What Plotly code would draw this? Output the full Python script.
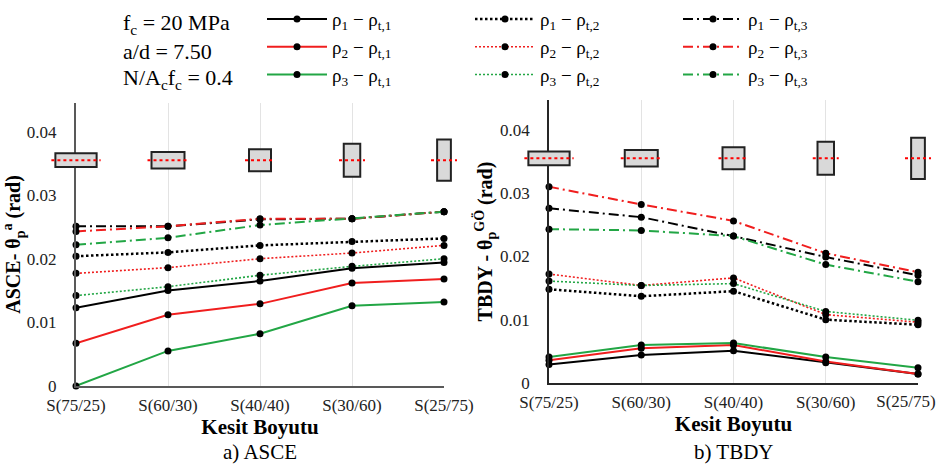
import plotly.graph_objects as go

# ---------------- data ----------------
categories = ["S(75/25)", "S(60/30)", "S(40/40)", "S(30/60)", "S(25/75)"]
sec_b = [75, 60, 40, 30, 25]   # section width (cm)
sec_h = [25, 30, 40, 60, 75]   # section height (cm)
limit_ref = 0.0355             # reference level drawn through the section glyphs

# ASCE (left)
asce_r1_t1 = [0.0123, 0.0150, 0.0165, 0.0185, 0.0194]
asce_r2_t1 = [0.0067, 0.0112, 0.0129, 0.0162, 0.0168]
asce_r3_t1 = [0.0000, 0.0055, 0.0082, 0.0126, 0.0132]
asce_r1_t2 = [0.0204, 0.0210, 0.0221, 0.0227, 0.0232]
asce_r2_t2 = [0.0177, 0.0186, 0.0200, 0.0209, 0.0221]
asce_r3_t2 = [0.0142, 0.0156, 0.0174, 0.0188, 0.0200]
asce_r1_t3 = [0.0251, 0.0251, 0.0262, 0.0263, 0.0274]
asce_r2_t3 = [0.0243, 0.0251, 0.0263, 0.0263, 0.0274]
asce_r3_t3 = [0.0222, 0.0233, 0.0253, 0.0263, 0.0274]

# TBDY (right)
tbdy_r1_t1 = [0.0029, 0.0044, 0.0051, 0.0032, 0.0014]
tbdy_r2_t1 = [0.0036, 0.0055, 0.0060, 0.0034, 0.0014]
tbdy_r3_t1 = [0.0041, 0.0060, 0.0063, 0.0041, 0.0024]
tbdy_r1_t2 = [0.0148, 0.0137, 0.0145, 0.0100, 0.0092]
tbdy_r2_t2 = [0.0172, 0.0154, 0.0166, 0.0108, 0.0096]
tbdy_r3_t2 = [0.0161, 0.0154, 0.0157, 0.0113, 0.0099]
tbdy_r1_t3 = [0.0276, 0.0262, 0.0232, 0.0199, 0.0170]
tbdy_r2_t3 = [0.0310, 0.0282, 0.0256, 0.0205, 0.0175]
tbdy_r3_t3 = [0.0243, 0.0241, 0.0232, 0.0187, 0.0160]

y_tickvals = [0, 0.01, 0.02, 0.03, 0.04]
y_ticktext = ["0", "0.01", "0.02", "0.03", "0.04"]

# ---------------- styles ----------------
BLACK, RED, GREEN = "#000000", "#f01e1e", "#22a645"
FONT = "Liberation Serif"
DOT_BLACK = dict(dash="2.5px,2.5px", width=2.5)
DOT_COL = dict(dash="2px,2px", width=1.6)
DASHDOT = dict(dash="10px,4px,2px,4px", width=2)
SOLID = dict(dash="solid", width=2)

series = [
    # (name, asce, tbdy, color, style, legend)
    ("ρ<sub>1</sub> − ρ<sub>t,1</sub>", asce_r1_t1, tbdy_r1_t1, BLACK, SOLID, "legend"),
    ("ρ<sub>2</sub> − ρ<sub>t,1</sub>", asce_r2_t1, tbdy_r2_t1, RED, SOLID, "legend"),
    ("ρ<sub>3</sub> − ρ<sub>t,1</sub>", asce_r3_t1, tbdy_r3_t1, GREEN, SOLID, "legend"),
    ("ρ<sub>1</sub> − ρ<sub>t,2</sub>", asce_r1_t2, tbdy_r1_t2, BLACK, DOT_BLACK, "legend2"),
    ("ρ<sub>2</sub> − ρ<sub>t,2</sub>", asce_r2_t2, tbdy_r2_t2, RED, DOT_COL, "legend2"),
    ("ρ<sub>3</sub> − ρ<sub>t,2</sub>", asce_r3_t2, tbdy_r3_t2, GREEN, DOT_COL, "legend2"),
    ("ρ<sub>1</sub> − ρ<sub>t,3</sub>", asce_r1_t3, tbdy_r1_t3, BLACK, DASHDOT, "legend3"),
    ("ρ<sub>2</sub> − ρ<sub>t,3</sub>", asce_r2_t3, tbdy_r2_t3, RED, DASHDOT, "legend3"),
    ("ρ<sub>3</sub> − ρ<sub>t,3</sub>", asce_r3_t3, tbdy_r3_t3, GREEN, DASHDOT, "legend3"),
]

fig = go.Figure()
for i, (name, ya, yt, col, st, lg) in enumerate(series):
    line = dict(color=col, width=st["width"], dash=st["dash"])
    mk = dict(color="black", size=7)
    fig.add_trace(go.Scatter(x=categories, y=ya, name=name, mode="lines+markers",
                             line=line, marker=mk, legend=lg, legendgroup=name,
                             cliponaxis=False, xaxis="x", yaxis="y"))
    fig.add_trace(go.Scatter(x=categories, y=yt, name=name, mode="lines+markers",
                             line=line, marker=mk, legend=lg, legendgroup=name,
                             showlegend=False, cliponaxis=False, xaxis="x2", yaxis="y2"))

# helper (invisible) trace so the overlay axis carrying the last right-panel label is drawn
fig.add_trace(go.Scatter(x=categories, y=[None] * len(categories), mode="markers",
                         showlegend=False, hoverinfo="skip", xaxis="x3", yaxis="y2"))

# section glyphs (pixel-sized rectangles scaled from section dims) + red dotted reference
PX_PER_CM = 0.55
shapes = []
n = len(categories)
for ax_suffix, yref in (("", "y"), ("2", "y2")):
    for i in range(n):
        w = sec_b[i] * PX_PER_CM
        h = sec_h[i] * PX_PER_CM
        xa = i / (n - 1)
        shapes.append(dict(type="rect", xref="x" + ax_suffix + " domain", yref=yref,
                           xsizemode="pixel", xanchor=xa, x0=-w / 2, x1=w / 2,
                           ysizemode="pixel", yanchor=limit_ref, y0=-h / 2, y1=h / 2,
                           fillcolor="#d9d9d9", line=dict(color="#222222", width=2),
                           layer="above"))
        L = max(w + 8, 26)
        shapes.append(dict(type="line", xref="x" + ax_suffix + " domain", yref=yref,
                           xsizemode="pixel", xanchor=xa, x0=-L / 2, x1=L / 2,
                           y0=limit_ref, y1=limit_ref,
                           line=dict(color="#ff0000", width=2, dash="dot"),
                           layer="above"))

# right panel: last tick label is drawn by an overlay axis, shifted left to stay on the page
right_ticktext = categories[:-1] + [""]

W, H = 939, 473
tickfont = dict(family=FONT, size=17, color="#222222")
common_x = dict(type="category", range=[0, 4], showgrid=True, gridcolor="#e3e3e3",
                gridwidth=1, showline=True, ticks="outside", ticklen=3,
                tickcolor="rgba(0,0,0,0)", tickfont=tickfont, zeroline=False,
                automargin=False)
common_y = dict(tickvals=y_tickvals, ticktext=y_ticktext, showgrid=False, zeroline=False,
                showline=True, ticks="outside", ticklen=14, tickcolor="rgba(0,0,0,0)",
                tickfont=tickfont, automargin=False)

fig.update_layout(
    template="none",
    width=W, height=H, margin=dict(l=0, r=0, t=0, b=0),
    paper_bgcolor="white", plot_bgcolor="white",
    font=dict(family=FONT, color="black"),
    shapes=shapes,
    xaxis=dict(domain=[76 / W, 444 / W], anchor="y", linecolor="#595959", linewidth=2,
               title=dict(text="<b>Kesit Boyutu</b>", font=dict(family=FONT, size=21), standoff=2),
               **common_x),
    xaxis2=dict(domain=[549 / W, 918 / W], anchor="y2", linecolor="#262626", linewidth=1.5,
                tickvals=categories, ticktext=right_ticktext,
                title=dict(text="<b>Kesit Boyutu</b>", font=dict(family=FONT, size=21), standoff=2),
                **common_x),
    xaxis3=dict(domain=[549 / W, 918 / W], anchor="y2", overlaying="x2", type="category",
                categoryorder="array", categoryarray=categories, range=[0, 4],
                tickvals=[categories[-1]], ticktext=[categories[-1]],
                ticklabelshift=-12, showgrid=False, showline=False, zeroline=False,
                ticks="outside", ticklen=3, tickcolor="rgba(0,0,0,0)", tickfont=tickfont,
                side="bottom", automargin=False),
    yaxis=dict(domain=[1 - 384 / H, 1 - 95 / H], anchor="x", range=[0, 0.0445],
               linecolor="#595959", linewidth=2,
               title=dict(text="<b>ASCE- θ<sub>p</sub><sup>a</sup> (rad)</b>",
                          font=dict(family=FONT, size=20), standoff=2),
               **common_y),
    yaxis2=dict(domain=[1 - 381 / H, 1 - 92 / H], anchor="x2", range=[0, 0.0447],
                linecolor="#262626", linewidth=1.5,
                title=dict(text="<b>TBDY - θ<sub>p</sub><sup>GÖ</sup> (rad)</b>",
                           font=dict(family=FONT, size=20), standoff=2),
                **common_y),
)

leg_common = dict(orientation="v", xanchor="left", yanchor="top", y=1 + 10 / H,
                  bgcolor="rgba(0,0,0,0)", borderwidth=0, itemwidth=60,
                  font=dict(family=FONT, size=19, color="black"), tracegroupgap=0)
fig.update_layout(
    legend=dict(x=262 / W, **leg_common),
    legend2=dict(x=470 / W, **leg_common),
    legend3=dict(x=678 / W, **leg_common),
)

# parameter text block and subplot captions
params = ["f<sub>c</sub> = 20 MPa", "a/d = 7.50", "N/A<sub>c</sub>f<sub>c</sub> = 0.4"]
param_y = [14, 42, 70]
for txt, yy in zip(params, param_y):
    fig.add_annotation(text=txt, xref="paper", yref="paper", x=121 / W, y=1 - yy / H,
                       xanchor="left", yanchor="middle", showarrow=False,
                       font=dict(family=FONT, size=22, color="black"))
for axname, cap in (("x", "a) ASCE"), ("x2", "b) TBDY")):
    fig.add_annotation(text=cap, xref=axname + " domain", yref="paper", x=0.5, y=1 - 452 / H,
                       xanchor="center", yanchor="middle", showarrow=False,
                       font=dict(family=FONT, size=21, color="black"))

fig.write_html("out.html")
